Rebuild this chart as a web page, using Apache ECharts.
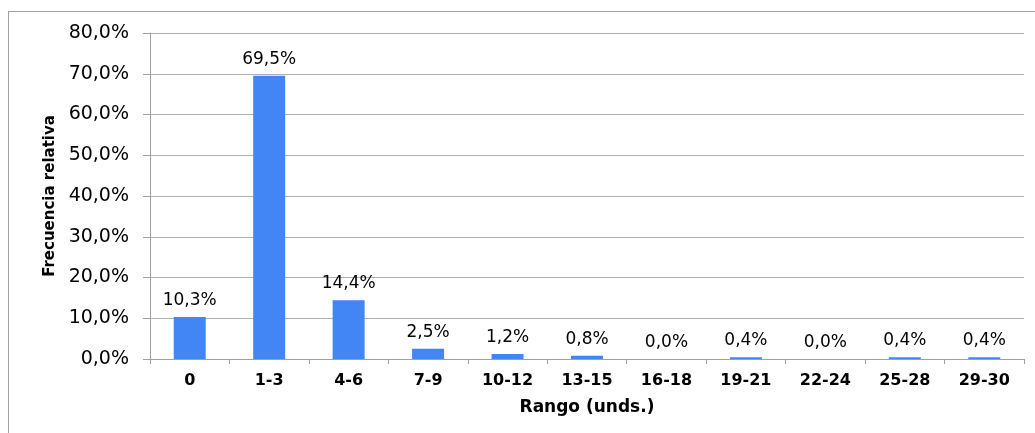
<!DOCTYPE html>
<html>
<head>
<meta charset="utf-8">
<script src="https://cdn.jsdelivr.net/npm/echarts@6/dist/echarts.min.js"></script>
<style>
  html, body { margin: 0; padding: 0; background: #fff; }
  #frame { position: absolute; left: 8px; top: 11px; width: 1040px; height: 440px; border: 1px solid #a0a0a0; box-sizing: border-box; }
  #chart { position: absolute; left: 0; top: 0; width: 1035px; height: 433px; }
</style>
</head>
<body>
<div id="frame"></div>
<div id="chart"></div>
<script>
// Frequency of units per range
const categories = ['0', '1-3', '4-6', '7-9', '10-12', '13-15', '16-18', '19-21', '22-24', '25-28', '29-30'];
const frecuencia = [10.3, 69.5, 14.4, 2.5, 1.2, 0.8, 0.0, 0.4, 0.0, 0.4, 0.4];
const yTicks = [0, 10, 20, 30, 40, 50, 60, 70, 80];

const pct = v => v.toFixed(1).replace('.', ',') + '%';
const font = '"DejaVu Sans", Arial, sans-serif';

const chart = echarts.init(document.getElementById('chart'), null, { renderer: 'canvas' });
chart.setOption({
  animation: false,
  backgroundColor: 'transparent',
  grid: { left: 150, right: 11, top: 33, bottom: 74, containLabel: false },
  xAxis: {
    type: 'category',
    data: categories,
    name: 'Rango (unds.)',
    nameLocation: 'middle',
    nameGap: 40,
    nameTextStyle: { fontFamily: font, fontSize: 17, fontWeight: 'bold', color: '#000' },
    axisLine: { lineStyle: { color: '#a0a0a0', width: 1 } },
    axisTick: { show: true, length: 5, lineStyle: { color: '#a0a0a0' } },
    axisLabel: { fontFamily: font, fontSize: 16, fontWeight: 'bold', color: '#000', margin: 14 }
  },
  yAxis: {
    type: 'value',
    min: yTicks[0],
    max: yTicks[yTicks.length - 1],
    interval: 10,
    name: 'Frecuencia relativa',
    nameLocation: 'middle',
    nameGap: 92,
    nameRotate: 90,
    nameTextStyle: { fontFamily: font, fontSize: 15, fontWeight: 'bold', color: '#000' },
    axisLine: { show: true, lineStyle: { color: '#a0a0a0', width: 1 } },
    axisTick: { show: true, length: 7, lineStyle: { color: '#a0a0a0' } },
    axisLabel: { fontFamily: font, fontSize: 19, color: '#000', margin: 21, formatter: v => pct(v) },
    splitLine: { show: true, lineStyle: { color: '#b0b0b0', width: 1 } }
  },
  series: [{
    type: 'bar',
    data: frecuencia,
    barWidth: 32,
    itemStyle: { color: '#4285F4' },
    label: {
      show: true,
      position: 'top',
      distance: 8,
      fontFamily: font,
      fontSize: 17,
      color: '#000',
      formatter: p => pct(p.value)
    }
  }]
});
</script>
</body>
</html>
